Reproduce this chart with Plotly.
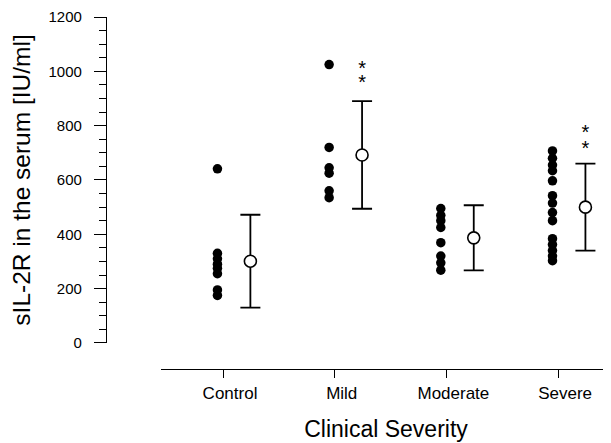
import plotly.graph_objects as go

categories = ["Control", "Mild", "Moderate", "Severe"]
control_vals = [641, 330, 310, 290, 275, 255, 195, 175]
mild_vals = [1025, 720, 645, 625, 560, 535]
moderate_vals = [495, 470, 450, 425, 369, 320, 295, 268]
severe_vals = [707, 680, 655, 634, 597, 542, 515, 480, 450, 384, 362, 340, 320, 303]
means = [301, 692, 387, 500]
sds = [171, 198, 120, 160]
sig_mild = [1004, 952]
sig_severe = [770, 711]
y_ticks = [0, 200, 400, 600, 800, 1000, 1200]

groups = [control_vals, mild_vals, moderate_vals, severe_vals]
DOT_OFF = -0.05
MEAN_OFF = 0.245
FONT = "Liberation Sans, Arial, Helvetica, sans-serif"

fig = go.Figure()

dx, dy = [], []
for i, g in enumerate(groups):
    for v in g:
        dx.append(i + DOT_OFF)
        dy.append(v)
fig.add_trace(go.Scatter(
    x=dx, y=dy, mode="markers",
    marker=dict(size=9.5, color="black", line=dict(width=0)),
    showlegend=False, hoverinfo="y"))

fig.add_trace(go.Scatter(
    x=[i + MEAN_OFF for i in range(len(categories))], y=means, mode="markers",
    marker=dict(size=12, color="white", line=dict(width=1.6, color="black")),
    error_y=dict(type="data", array=sds, symmetric=True, color="black",
                 thickness=1.8, width=10),
    showlegend=False, hoverinfo="y"))

fig.add_trace(go.Scatter(
    x=[1 + MEAN_OFF] * len(sig_mild) + [3 + MEAN_OFF] * len(sig_severe),
    y=sig_mild + sig_severe, mode="text", text=["*"] * 4,
    textfont=dict(size=20, color="black", family=FONT),
    textposition="middle center", showlegend=False, hoverinfo="skip"))

# The page adds an 8px body margin, so the figure is drawn 8px smaller.
fig.update_layout(
    width=603, height=435,
    margin=dict(l=98, r=0, t=9, b=74, autoexpand=False),
    plot_bgcolor="white", paper_bgcolor="white",
    font=dict(family=FONT, color="black"),
    xaxis=dict(
        domain=[0.109, 1], range=[-0.555, 3.474],
        anchor="free", position=0,
        showline=True, linecolor="black", linewidth=1.3,
        showgrid=False, zeroline=False,
        tickmode="array", tickvals=list(range(len(categories))), ticktext=categories,
        ticks="outside", ticklen=8, tickwidth=1.3, tickcolor="black",
        tickfont=dict(size=17), ticklabelshift=7,
        title=dict(text="Clinical Severity", font=dict(size=23), standoff=19),
        automargin=False,
    ),
    yaxis=dict(
        domain=[0.074, 1], range=[0, 1200],
        anchor="free", position=0,
        showline=True, linecolor="black", linewidth=1.3,
        showgrid=False, zeroline=False,
        tickmode="array", tickvals=y_ticks,
        ticks="outside", ticklen=12, tickwidth=1.3, tickcolor="black",
        tickfont=dict(size=15), ticklabelstandoff=9,
        minor=dict(dtick=50, ticks="outside", ticklen=7, tickwidth=1.1,
                   tickcolor="black", showgrid=False),
        title=dict(text="sIL-2R in the serum [IU/ml]", font=dict(size=24.5), standoff=19),
        automargin=False,
    ),
)

fig.write_html("out.html")
